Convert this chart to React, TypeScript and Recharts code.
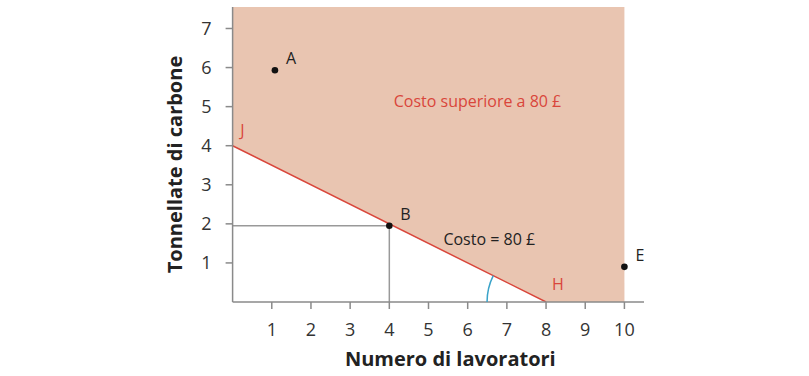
import React from "react";
import {
  ComposedChart,
  Area,
  Line,
  Scatter,
  XAxis,
  YAxis,
  ReferenceLine,
  ReferenceDot,
} from "recharts";

// axis ticks
const xTicks = [1, 2, 3, 4, 5, 6, 7, 8, 9, 10];
const yTicks = [1, 2, 3, 4, 5, 6, 7];
const yTop = 7.55;

// shaded region: costs above 80 £
const regionData = [
  { x: 0, band: [4, yTop] },
  { x: 8, band: [0, yTop] },
  { x: 10, band: [0, yTop] },
];

// iso-cost line J-H
const costLine = [
  { x: 0, y: 4 },
  { x: 8, y: 0 },
];

const points = [
  { x: 1.08, y: 5.93, name: "A" },
  { x: 4, y: 1.95, name: "B" },
  { x: 10, y: 0.9, name: "E" },
];

const lineLabels = [
  { x: 0.25, y: 4.25, name: "J" },
  { x: 8.3, y: 0.3, name: "H" },
];

const B = points[1];

const FONT = "'Open Sans', 'Noto Sans', sans-serif";
const AXIS = "#8a8a8a";
const RED = "#d9463b";

const PointShape = (p: any) => (
  <g>
    <circle cx={p.cx} cy={p.cy} r={3.3} fill="#111" />
    <text x={p.cx + 11} y={p.cy - 6} fontSize={16} fill="#222" fontFamily={FONT}>
      {p.payload.name}
    </text>
  </g>
);

const LetterShape = (p: any) => (
  <text x={p.cx} y={p.cy} fontSize={16} fill={RED} textAnchor="middle" fontFamily={FONT}>
    {p.payload.name}
  </text>
);

const AngleArc = (p: any) => {
  const r = 59;
  const a = (26.5 * Math.PI) / 180;
  const x0 = p.cx - r;
  const y0 = p.cy;
  const x1 = p.cx - r * Math.cos(a);
  const y1 = p.cy - r * Math.sin(a);
  return (
    <path
      d={`M${x0},${y0} A${r},${r} 0 0 1 ${x1},${y1}`}
      fill="none"
      stroke="#3aa3c9"
      strokeWidth={1.5}
    />
  );
};

export default function App() {
  return (
    <div style={{ position: "absolute", left: 0, top: 0, fontFamily: FONT }}>
      <ComposedChart
        width={809}
        height={376}
        margin={{ top: 7, right: 165, bottom: 14, left: 152.6 }}
      >
        <XAxis
          type="number"
          dataKey="x"
          domain={[0, 10.5]}
          ticks={xTicks}
          allowDataOverflow
          height={60}
          stroke={AXIS}
          tickSize={7}
          tickMargin={14}
          tick={{ fontSize: 18, fill: "#333", fontFamily: FONT }}
          axisLine={{ stroke: AXIS, strokeWidth: 1.5 }}
          tickLine={{ stroke: AXIS, strokeWidth: 1.5 }}
          label={{
            content: (props: any) => {
              const vb = props.viewBox;
              return (
                <text
                  x={vb.x + vb.width / 2 + 12}
                  y={vb.y + 64}
                  textAnchor="middle"
                  fontSize={20}
                  fontWeight="bold"
                  fill="#222"
                  fontFamily={FONT}
                >
                  Numero di lavoratori
                </text>
              );
            },
          }}
        />
        <YAxis
          type="number"
          domain={[0, yTop]}
          ticks={yTicks}
          allowDataOverflow
          width={80}
          stroke={AXIS}
          tickSize={7}
          tickMargin={14}
          tick={{ fontSize: 18, fill: "#333", fontFamily: FONT }}
          axisLine={{ stroke: AXIS, strokeWidth: 1.5 }}
          tickLine={{ stroke: AXIS, strokeWidth: 1.5 }}
          label={{
            content: (props: any) => {
              const vb = props.viewBox;
              const cx = vb.x + 22;
              const cy = vb.y + vb.height / 2 + 10;
              return (
                <text
                  x={cx}
                  y={cy}
                  transform={`rotate(-90 ${cx} ${cy})`}
                  textAnchor="middle"
                  dominantBaseline="central"
                  fontSize={20}
                  fontWeight="bold"
                  fill="#222"
                  fontFamily={FONT}
                >
                  Tonnellate di carbone
                </text>
              );
            },
          }}
        />
        <Area
          data={regionData}
          dataKey="band"
          type="linear"
          fill="#e9c5b1"
          fillOpacity={1}
          stroke="none"
          isAnimationActive={false}
        />
        <ReferenceLine
          segment={[
            { x: 0, y: B.y },
            { x: B.x, y: B.y },
          ]}
          stroke="#999"
          strokeWidth={1.5}
        />
        <ReferenceLine
          segment={[
            { x: B.x, y: 0 },
            { x: B.x, y: B.y },
          ]}
          stroke="#999"
          strokeWidth={1.5}
        />
        <Line
          data={costLine}
          dataKey="y"
          type="linear"
          stroke={RED}
          strokeWidth={1.5}
          dot={false}
          isAnimationActive={false}
        />
        <ReferenceDot x={8} y={0} r={0} shape={AngleArc} />
        <ReferenceDot
          x={6.25}
          y={5.0}
          r={0}
          shape={(p: any) => (
            <text x={p.cx} y={p.cy} textAnchor="middle" fontSize={16} fill={RED} fontFamily={FONT}>
              Costo superiore a 80 £
            </text>
          )}
        />
        <ReferenceDot
          x={6.55}
          y={1.47}
          r={0}
          shape={(p: any) => (
            <text x={p.cx} y={p.cy} textAnchor="middle" fontSize={16} fill="#222" fontFamily={FONT}>
              Costo = 80 £
            </text>
          )}
        />
        <Scatter data={lineLabels} dataKey="y" shape={LetterShape} isAnimationActive={false} />
        <Scatter data={points} dataKey="y" shape={PointShape} isAnimationActive={false} />
      </ComposedChart>
    </div>
  );
}
